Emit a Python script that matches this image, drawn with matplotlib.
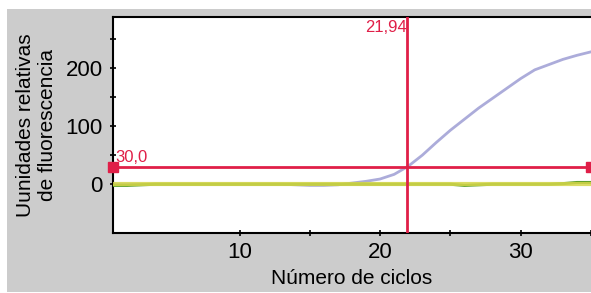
import numpy as np
import matplotlib.pyplot as plt
from matplotlib.patches import Rectangle
from matplotlib.ticker import FixedLocator

plt.rcParams['font.family'] = ['Liberation Sans', 'DejaVu Sans']

# =========================
# Données
# =========================

cycles = list(range(1, 36))

# courbe d'amplification (bleu lavande)
rfu_blue = [0, 0, 0, 0, 0, 0, 0, 0, 0, 0, 0, 0, 0, -1, -2,
            -2, -1, 2, 5, 9, 17, 31, 50, 72, 93, 112, 131, 148, 165, 182,
            197, 206, 215, 222, 228]

# courbes plates (contrôles)
rfu_green = [-2, -2, -1, 0, 0, 0, 0, 0, 0, 0, 0, 0, 0, 0, 0,
             0, 0, 0, 0, 0, 0, 0, 0, 0, 0, -2, -1, 0, 0, 0,
             0, 0, 1, 3, 3]
rfu_yellow = [0] * 35

threshold = 30.0
ct_value = 21.94

threshold_label = "30,0"
ct_label = "21,94"

RED = "#e01f48"

# =========================
# Figure
# =========================

fig = plt.figure(figsize=(5.91, 2.93), dpi=100)
fig.patches.append(Rectangle((7 / 591, 1 / 293), 584 / 591, 283 / 293,
                             transform=fig.transFigure, facecolor="#cccccc",
                             edgecolor="none", zorder=-10))

ax = fig.add_axes([113 / 591, 60 / 293, 478 / 591, 216 / 293])
ax.set_facecolor("white")

# le jaune recouvre les autres traces près de zéro
ax.plot(cycles, rfu_blue, color="#acacda", lw=2.0, zorder=2)
ax.plot(cycles, rfu_green, color="#5a9e2a", lw=2.2, zorder=3)
ax.plot(cycles, rfu_yellow, color="#d6d64a", lw=3.0, alpha=0.85, zorder=4)

# seuil + Ct
ax.axhline(threshold, color=RED, lw=2.0, zorder=5)
ax.axvline(ct_value, color=RED, lw=2.0, zorder=5)
ax.plot([1, 35], [threshold, threshold], ls="none", marker="s", ms=7,
        color=RED, clip_on=False, zorder=6)

ax.text(1.15, threshold + 3, threshold_label, color=RED, fontsize=12,
        ha="left", va="bottom", zorder=6)
ax.text(ct_value - 0.05, 282, ct_label, color=RED, fontsize=12,
        ha="right", va="top", zorder=6)

ax.set_xlim(1, 35)
ax.set_ylim(-84, 288)

ax.xaxis.set_major_locator(FixedLocator([10, 20, 30]))
ax.xaxis.set_minor_locator(FixedLocator([15, 25, 35]))
ax.yaxis.set_major_locator(FixedLocator([0, 100, 200]))
ax.yaxis.set_minor_locator(FixedLocator([50, 150, 250]))

ax.tick_params(which="both", direction="inout", length=5, width=1.2,
               labelsize=16, colors="black")
ax.tick_params(axis="y", pad=5)
ax.tick_params(axis="x", pad=4)

for side in ["left", "top", "bottom"]:
    ax.spines[side].set_linewidth(1.5)
ax.spines["right"].set_visible(False)

ax.set_xlabel("Número de ciclos", fontsize=15, labelpad=4)
ax.set_ylabel("Uunidades relativas\nde fluorescencia", fontsize=15,
              labelpad=6, linespacing=1.2)

fig.savefig("out.png", dpi=100)
